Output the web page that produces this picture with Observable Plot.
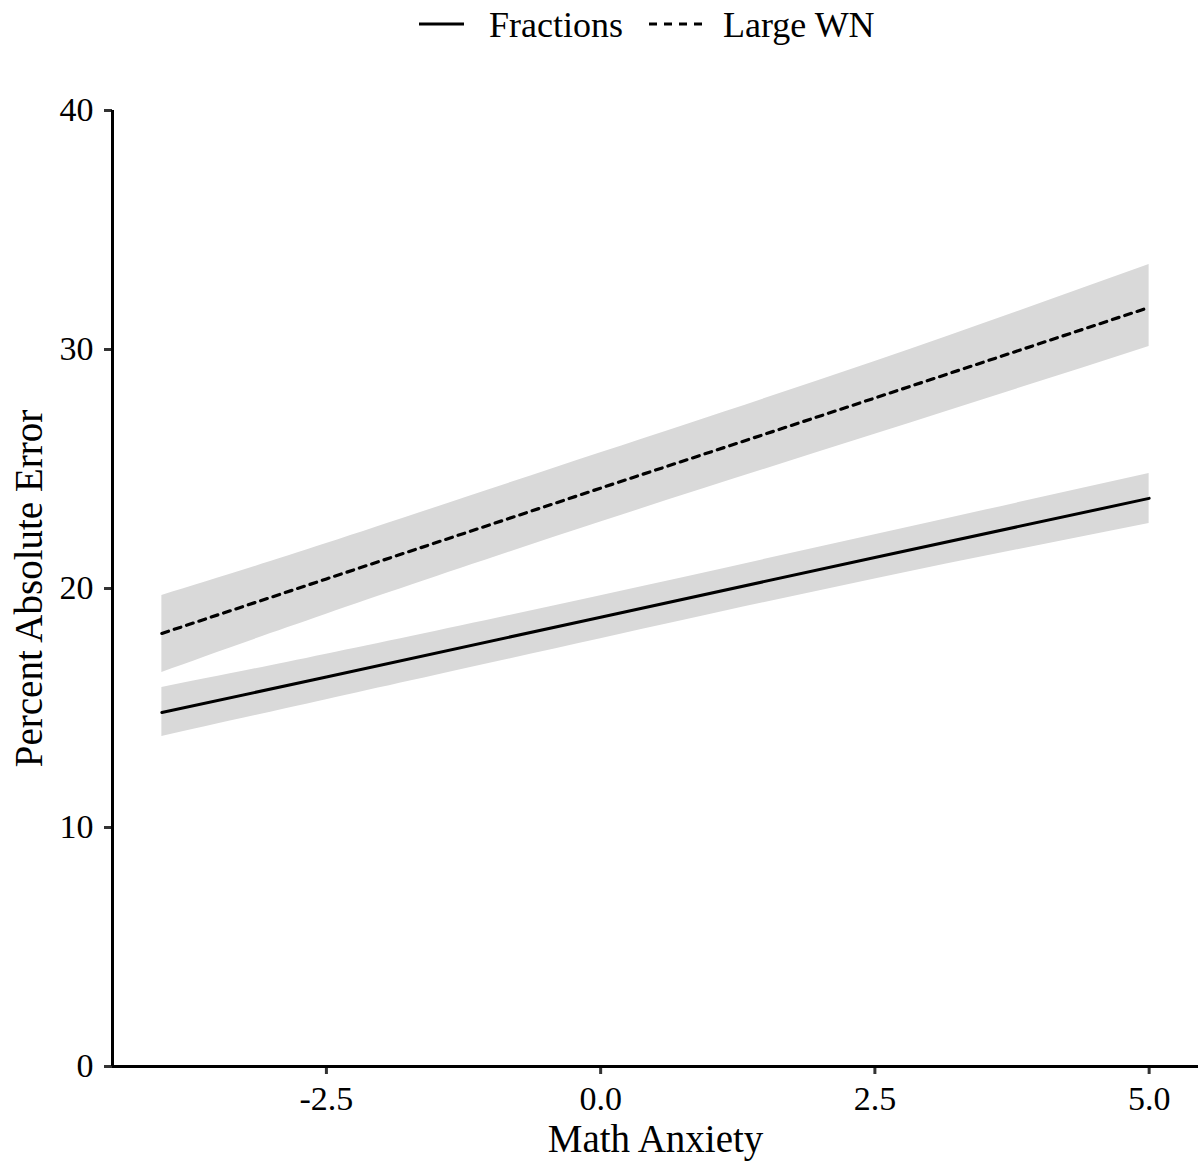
<!DOCTYPE html>
<html>
<head>
<meta charset="utf-8">
<script src="https://cdn.jsdelivr.net/npm/d3@7"></script>
<script src="https://cdn.jsdelivr.net/npm/@observablehq/plot@0.6"></script>
<style>
  html, body { margin: 0; padding: 0; background: #fff; }
  #chart { width: 1201px; font-family: "Liberation Serif", "Times New Roman", serif; }
  #legend { display: block; }
</style>
</head>
<body>
<div id="chart"></div>
<script>
// ---- data ----
const series = ["Fractions", "Large WN"];
const xs = [-4, -2.5, 0, 2.5, 5];
const fractionsFit  = [14.81, 16.30, 18.80, 21.30, 23.77];
const fractionsLow  = [13.81, 15.35, 17.90, 20.40, 22.72];
const fractionsHigh = [15.86, 17.25, 19.70, 22.25, 24.81];
const largeWNFit  = [18.12, 20.40, 24.20, 27.97, 31.76];
const largeWNLow  = [16.49, 18.92, 22.78, 26.45, 30.13];
const largeWNHigh = [19.71, 21.88, 25.68, 29.50, 33.56];
const xTicks = [-2.5, 0, 2.5, 5];
const yTicks = [0, 10, 20, 30, 40];
const xDomain = [-4.45, 5.45];
const yDomain = [0, 40];
const xTitle = "Math Anxiety";
const yTitle = "Percent Absolute Error";

const rows = xs.flatMap((x, i) => [
  {series: series[0], x, fit: fractionsFit[i], lo: fractionsLow[i], hi: fractionsHigh[i]},
  {series: series[1], x, fit: largeWNFit[i], lo: largeWNLow[i], hi: largeWNHigh[i]}
]);

const font = "Liberation Serif, Times New Roman, serif";

// ---- legend (above the plot) ----
const ns = "http://www.w3.org/2000/svg";
const leg = document.createElementNS(ns, "svg");
leg.setAttribute("id", "legend");
leg.setAttribute("width", 1201);
leg.setAttribute("height", 55);
const legItems = [
  {name: series[0], x1: 419, x2: 464, tx: 489, dash: null},
  {name: series[1], x1: 649, x2: 704, tx: 723, dash: "8,7"}
];
for (const it of legItems) {
  const ln = document.createElementNS(ns, "line");
  ln.setAttribute("x1", it.x1); ln.setAttribute("x2", it.x2);
  ln.setAttribute("y1", 24); ln.setAttribute("y2", 24);
  ln.setAttribute("stroke", "black"); ln.setAttribute("stroke-width", 3);
  if (it.dash) ln.setAttribute("stroke-dasharray", it.dash);
  leg.appendChild(ln);
  const tx = document.createElementNS(ns, "text");
  tx.setAttribute("x", it.tx); tx.setAttribute("y", 37);
  tx.setAttribute("font-size", 36);
  tx.setAttribute("font-family", font);
  tx.setAttribute("fill", "black");
  tx.textContent = it.name;
  leg.appendChild(tx);
}
document.getElementById("chart").appendChild(leg);

// ---- plot ----
const plot = Plot.plot({
  width: 1201,
  height: 1110,
  marginTop: 55,
  marginBottom: 99,
  marginLeft: 112,
  marginRight: 3,
  style: {fontFamily: font, background: "white", color: "black"},
  x: {domain: xDomain, label: null},
  y: {domain: yDomain, label: null},
  marks: [
    Plot.areaY(rows, {x: "x", y1: "lo", y2: "hi", z: "series", fill: "#d9d9d9", curve: "natural"}),
    Plot.line(rows.filter(d => d.series === series[0]), {x: "x", y: "fit", stroke: "black", strokeWidth: 3}),
    Plot.line(rows.filter(d => d.series === series[1]), {x: "x", y: "fit", stroke: "black", strokeWidth: 3.2, strokeDasharray: "7,6"}),
    Plot.axisX({ticks: xTicks, tickFormat: d => d.toFixed(1), tickSize: 8, tickPadding: 11, fontSize: 34, stroke: "#333", strokeWidth: 3, fill: "black", label: null}),
    Plot.axisY({ticks: yTicks, tickFormat: d => String(d), tickSize: 8, tickPadding: 11, fontSize: 34, stroke: "#333", strokeWidth: 3, fill: "black", label: null}),
    Plot.ruleY([yDomain[0]], {stroke: "black", strokeWidth: 3}),
    Plot.ruleX([xDomain[0]], {stroke: "black", strokeWidth: 3}),
    Plot.text([xTitle], {frameAnchor: "bottom", text: d => d, dy: 73, fontSize: 39, textAnchor: "middle", lineAnchor: "middle", fill: "black"}),
    Plot.text([yTitle], {frameAnchor: "left", text: d => d, rotate: -90, dx: -83, fontSize: 39, textAnchor: "middle", lineAnchor: "middle", fill: "black"})
  ]
});
document.getElementById("chart").appendChild(plot);
</script>
</body>
</html>
